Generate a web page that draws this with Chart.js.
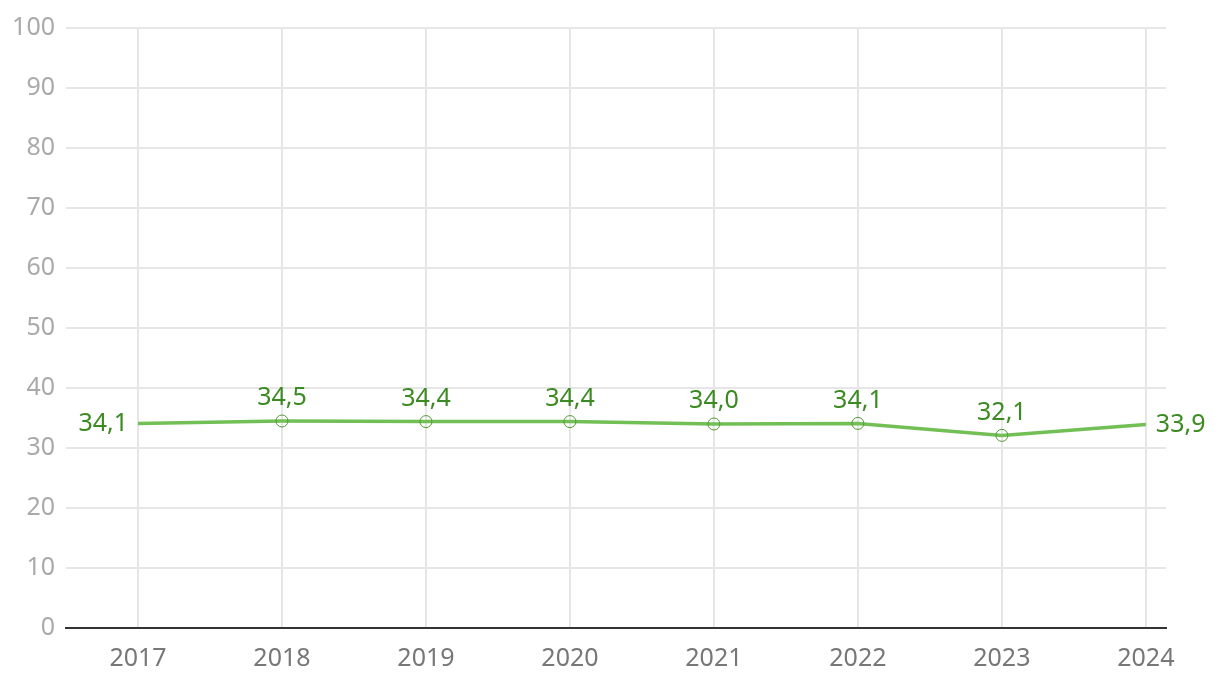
<!DOCTYPE html>
<html>
<head>
<meta charset="utf-8">
<style>
  html, body { margin: 0; padding: 0; background: #fff; }
  #wrap { width: 1220px; height: 692px; position: relative; }
</style>
<script src="https://cdn.jsdelivr.net/npm/chart.js@4/dist/chart.umd.min.js"></script>
</head>
<body>
<div id="wrap"><canvas id="c" width="1220" height="692"></canvas></div>
<script>
const categories = ['2017', '2018', '2019', '2020', '2021', '2022', '2023', '2024'];
const values = [34.1, 34.5, 34.4, 34.4, 34.0, 34.1, 32.1, 33.9];
const yTicks = [0, 10, 20, 30, 40, 50, 60, 70, 80, 90, 100];

const FONT = '"Noto Sans", sans-serif';
const labelColor = '#3b8a22';
const lineColor = '#72bf55';

const pointRadii = values.map((v, i) => (i === 0 || i === values.length - 1) ? 0 : 6);

const labelPlugin = {
  id: 'valueLabels',
  afterDatasetsDraw(chart) {
    const ctx = chart.ctx;
    const meta = chart.getDatasetMeta(0);
    ctx.save();
    ctx.font = '25px ' + FONT;
    ctx.fillStyle = labelColor;
    meta.data.forEach((pt, i) => {
      const txt = values[i].toFixed(1).replace('.', ',');
      if (i === 0) {
        ctx.textAlign = 'right';
        ctx.textBaseline = 'middle';
        ctx.fillText(txt, pt.x - 10, pt.y);
      } else if (i === values.length - 1) {
        ctx.textAlign = 'left';
        ctx.textBaseline = 'middle';
        ctx.fillText(txt, pt.x + 10, pt.y);
      } else {
        ctx.textAlign = 'center';
        ctx.textBaseline = 'middle';
        ctx.fillText(txt, pt.x, pt.y - 23);
      }
    });
    ctx.restore();
  }
};

new Chart(document.getElementById('c'), {
  type: 'line',
  data: {
    datasets: [{
      data: values.map((v, i) => ({ x: i, y: v })),
      borderColor: lineColor,
      borderWidth: 3.5,
      pointRadius: pointRadii,
      pointBackgroundColor: 'rgba(0,0,0,0)',
      pointBorderColor: '#4f9a35',
      pointBorderWidth: 1,
      tension: 0,
      clip: false
    }]
  },
  options: {
    responsive: false,
    animation: false,
    events: [],
    layout: { padding: { top: 28, right: 54, left: 0, bottom: 0 } },
    plugins: { legend: { display: false }, tooltip: { enabled: false } },
    scales: {
      x: {
        type: 'linear',
        min: -0.5,
        max: 7.14,
        afterBuildTicks: s => { s.ticks = categories.map((_, i) => ({ value: i })); },
        afterFit: s => { s.height = 64; },
        ticks: {
          callback: v => categories[v],
          color: '#777',
          font: { family: FONT, size: 25 },
          padding: 16,
          maxRotation: 0,
          autoSkip: false
        },
        grid: { color: '#e6e6e6', lineWidth: 2, drawTicks: false },
        border: { display: true, color: '#333', width: 2 }
      },
      y: {
        min: 0,
        max: 100,
        afterBuildTicks: s => { s.ticks = yTicks.map(v => ({ value: v })); },
        afterFit: s => { s.width = 66; },
        ticks: {
          color: '#aaa',
          font: { family: FONT, size: 25 },
          padding: 11
        },
        grid: { color: '#e6e6e6', lineWidth: 2, drawTicks: false },
        border: { display: false }
      }
    }
  },
  plugins: [labelPlugin]
});
</script>
</body>
</html>
